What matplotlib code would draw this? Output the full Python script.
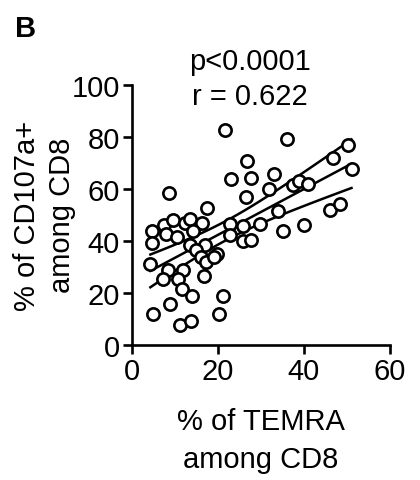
import numpy as np
import matplotlib.pyplot as plt

plt.rcParams['font.family'] = ['Liberation Sans', 'DejaVu Sans']

# % of TEMRA among CD8 (x) and % of CD107a+ among CD8 (y)
temra = [21.6, 36.0, 50.3, 26.9, 46.8, 51.1, 23.0, 27.7, 33.0, 8.7,
         26.5, 31.9, 37.4, 38.9, 40.9, 17.5, 34.1, 46.0, 48.5, 4.7,
         7.4, 9.6, 12.3, 13.5, 16.2, 14.3, 7.9, 10.6, 4.6, 22.8,
         22.8, 25.9, 29.8, 25.9, 27.6, 35.2, 40.0, 13.5, 17.0, 15.0,
         16.0, 17.2, 19.7, 19.2, 4.3, 8.4, 11.9, 7.3, 10.8, 16.7,
         11.6, 14.0, 21.1, 8.8, 5.0, 20.3, 11.2, 13.7]
cd107a = [82.4, 79.0, 76.7, 70.8, 71.8, 67.7, 63.6, 64.1, 65.8, 58.5,
          56.9, 59.7, 61.3, 63.1, 61.7, 52.6, 51.4, 51.7, 54.1, 43.6,
          45.9, 48.0, 46.7, 48.5, 47.0, 43.8, 42.6, 41.3, 39.2, 46.3,
          42.3, 45.6, 46.5, 39.9, 40.1, 43.6, 46.2, 38.5, 38.5, 36.3,
          33.7, 31.8, 34.9, 33.7, 31.2, 28.6, 28.6, 25.4, 25.4, 26.4,
          21.5, 18.7, 18.7, 15.8, 11.9, 11.8, 7.7, 9.0]

x = np.array(temra)
y = np.array(cd107a)
n = len(x)
slope, intercept = np.polyfit(x, y, 1)
xs = np.linspace(x.min(), x.max(), 100)
fit = slope * xs + intercept
resid = y - (slope * x + intercept)
s = np.sqrt(np.sum(resid ** 2) / (n - 2))
se = s * np.sqrt(1 / n + (xs - x.mean()) ** 2 / np.sum((x - x.mean()) ** 2))
t = 2.003

fig = plt.figure(figsize=(4.2, 4.81), dpi=100)
ax = fig.add_axes([0.314, 0.281, 0.614, 0.541])
ax.scatter(x, y, s=78, facecolor='white', edgecolor='black', linewidth=1.9, zorder=3, clip_on=False)
ax.plot(xs, fit, color='black', lw=1.8)
ax.plot(xs, fit + t * se, color='black', lw=1.8)
ax.plot(xs, fit - t * se, color='black', lw=1.8)

ax.set_xlim(0, 60)
ax.set_ylim(0, 100)
ax.set_xticks([0, 20, 40, 60])
ax.set_yticks([0, 20, 40, 60, 80, 100])
ax.spines['top'].set_visible(False)
ax.spines['right'].set_visible(False)
for sp in ['left', 'bottom']:
    ax.spines[sp].set_linewidth(1.9)
ax.tick_params(width=1.9, length=6.5, labelsize=21, colors='black', pad=2)

ax.set_xlabel('% of TEMRA\namong CD8', fontsize=21, linespacing=1.45, labelpad=16)
ax.set_ylabel('% of CD107a+\namong CD8', fontsize=21, linespacing=1.3, labelpad=-3)

ax.text(0.457, 1.092, 'p<0.0001', transform=ax.transAxes, fontsize=21, ha='center', va='center')
ax.text(0.457, 0.958, 'r = 0.622', transform=ax.transAxes, fontsize=21, ha='center', va='center')
fig.text(0.035, 0.94, 'B', fontsize=21, fontweight='bold', ha='left', va='center')

fig.savefig('out.png', dpi=100)
